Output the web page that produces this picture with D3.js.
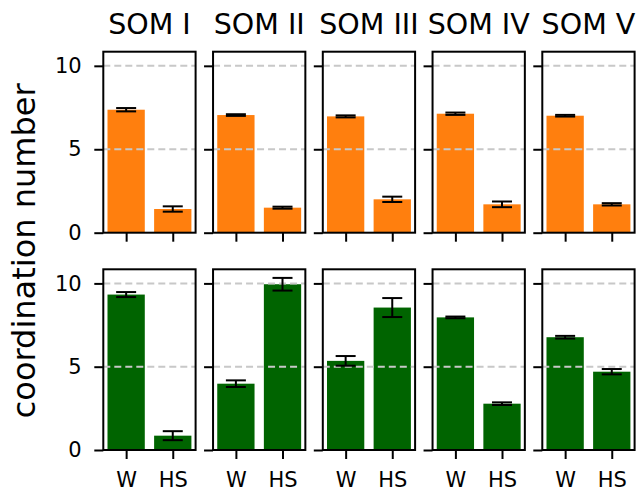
<!DOCTYPE html>
<html>
<head>
<meta charset="utf-8">
<script src="https://cdn.jsdelivr.net/npm/d3@7"></script>
<style>
  html, body { margin: 0; padding: 0; background: #fff; }
  svg { display: block; font-family: "DejaVu Sans", sans-serif; }
  .tick text { font-family: "DejaVu Sans", sans-serif; font-size: 21px; fill: #000; }
</style>
</head>
<body>
<svg id="chart" width="636" height="492"></svg>
<script>
// Panel titles and bar categories
const panelTitles = ["SOM I", "SOM II", "SOM III", "SOM IV", "SOM V"];
const categories = ["W", "HS"];

// Upper row (orange): mean coordination number and error per panel
const upperW = [7.37, 7.05, 6.97, 7.13, 7.01];
const upperWErr = [0.10, 0.05, 0.06, 0.07, 0.05];
const upperHS = [1.42, 1.50, 2.00, 1.70, 1.70];
const upperHSErr = [0.16, 0.06, 0.16, 0.17, 0.07];

// Lower row (green)
const lowerW = [9.33, 3.98, 5.35, 7.96, 6.77];
const lowerWErr = [0.15, 0.20, 0.29, 0.05, 0.08];
const lowerHS = [0.86, 9.95, 8.55, 2.78, 4.70];
const lowerHSErr = [0.27, 0.38, 0.57, 0.08, 0.16];

// Y tick values
const yTicks = [0, 5, 10];

const rows = [
  { color: "#ff7f0e", means: [upperW, upperHS], errs: [upperWErr, upperHSErr], top: 51.7, bottom: 232.7, xLabels: false },
  { color: "#006400", means: [lowerW, lowerHS], errs: [lowerWErr, lowerHSErr], top: 269.3, bottom: 450, xLabels: true }
];

// Shared y-limit: largest bar + error, plus 5% headroom
const yMax = d3.max(rows, r => d3.max(r.means, (m, k) => d3.max(m, (v, i) => v + r.errs[k][i]))) * 1.05;

const panelLeft0 = 103.3, panelStep = 109.75, panelW = 92.3;
const tickLen = 9;
const svg = d3.select("#chart");

rows.forEach((row, ri) => {
  const y = d3.scaleLinear().domain([0, yMax]).range([row.bottom, row.top]);
  panelTitles.forEach((title, pi) => {
    const left = panelLeft0 + pi * panelStep;
    const x = d3.scaleLinear().domain([-0.49, 1.49]).range([left, left + panelW]);
    const g = svg.append("g");

    // bars
    const data = categories.map((c, i) => ({ i, v: row.means[i][pi], e: row.errs[i][pi] }));
    g.selectAll("rect.bar").data(data).join("rect")
      .attr("class", "bar")
      .attr("x", d => x(d.i - 0.4))
      .attr("width", d => x(d.i + 0.4) - x(d.i - 0.4))
      .attr("y", d => y(d.v))
      .attr("height", d => y(0) - y(d.v))
      .attr("fill", row.color);

    // dashed horizontal grid
    g.selectAll("line.grid").data(yTicks.filter(t => t > 0)).join("line")
      .attr("class", "grid")
      .attr("x1", left).attr("x2", left + panelW)
      .attr("y1", d => y(d)).attr("y2", d => y(d))
      .attr("stroke", "#c8c8c8").attr("stroke-width", 2)
      .attr("stroke-dasharray", "7,4");

    // error bars
    const eb = g.selectAll("g.err").data(data).join("g").attr("class", "err")
      .attr("stroke", "#000").attr("stroke-width", 2);
    eb.append("line")
      .attr("x1", d => x(d.i)).attr("x2", d => x(d.i))
      .attr("y1", d => y(d.v - d.e)).attr("y2", d => y(d.v + d.e));
    eb.append("line")
      .attr("x1", d => x(d.i) - 10).attr("x2", d => x(d.i) + 10)
      .attr("y1", d => y(d.v - d.e)).attr("y2", d => y(d.v - d.e));
    eb.append("line")
      .attr("x1", d => x(d.i) - 10).attr("x2", d => x(d.i) + 10)
      .attr("y1", d => y(d.v + d.e)).attr("y2", d => y(d.v + d.e));

    // x axis
    const xAxis = d3.axisBottom(x).tickValues([0, 1])
      .tickFormat(d => row.xLabels ? categories[d] : "")
      .tickSize(tickLen).tickPadding(13).tickSizeOuter(0);
    const xg = g.append("g").attr("transform", `translate(0,${row.bottom})`).call(xAxis);
    xg.attr("font-size", null).attr("font-family", null);
    xg.select(".domain").remove();
    xg.selectAll("line").attr("stroke-width", 2);

    // y axis
    const yAxis = d3.axisLeft(y).tickValues(yTicks)
      .tickFormat(d => pi === 0 ? d : "")
      .tickSize(tickLen).tickPadding(12.6).tickSizeOuter(0);
    const yg = g.append("g").attr("transform", `translate(${left},0)`).call(yAxis);
    yg.attr("font-size", null).attr("font-family", null);
    yg.select(".domain").remove();
    yg.selectAll("line").attr("stroke-width", 2);

    // frame
    g.append("rect")
      .attr("x", left).attr("y", row.top)
      .attr("width", panelW).attr("height", row.bottom - row.top)
      .attr("fill", "none").attr("stroke", "#000").attr("stroke-width", 2);

    // column titles
    if (ri === 0) {
      svg.append("text")
        .attr("x", left + panelW / 2).attr("y", 34.3)
        .attr("text-anchor", "middle")
        .style("font-size", "28.5px")
        .text(title);
    }
  });
});

// shared y-axis label
svg.append("text")
  .attr("transform", `translate(35,${(51.7 + 450) / 2}) rotate(-90)`)
  .attr("text-anchor", "middle")
  .style("font-size", "32px")
  .text("coordination number");
</script>
</body>
</html>
